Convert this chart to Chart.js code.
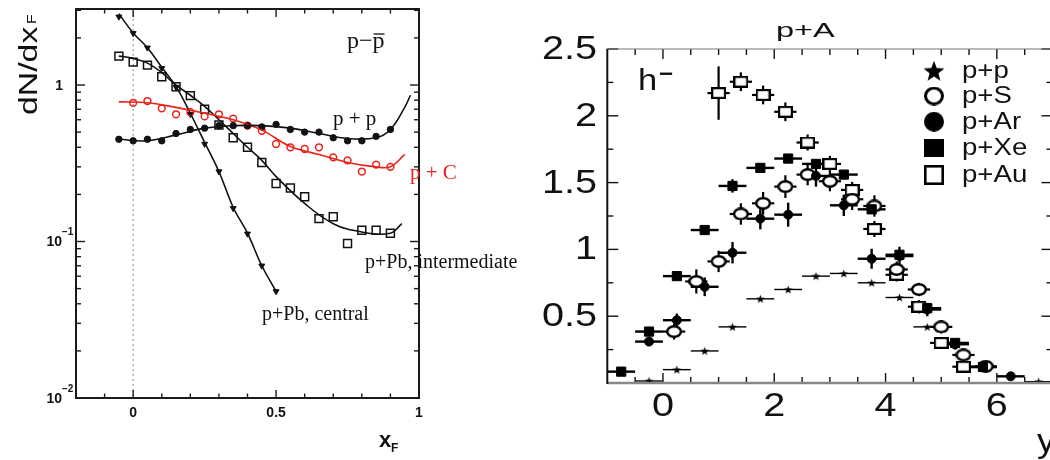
<!DOCTYPE html>
<html>
<head>
<meta charset="utf-8">
<script src="https://cdn.jsdelivr.net/npm/chart.js@4.4.0/dist/chart.umd.min.js"></script>
<style>
  html, body { margin: 0; padding: 0; background: #fff; }
  body { width: 1050px; height: 460px; overflow: hidden; position: relative; }
  canvas { position: absolute; top: 0; }
  #xf { left: 0; }
  #rap { left: 520px; }
</style>
</head>
<body>
<canvas id="xf" width="540" height="460"></canvas>
<canvas id="rap" width="540" height="460"></canvas>
<script>
const SANS = '"Liberation Sans", Arial, Helvetica, sans-serif';
const SERIF = '"Liberation Serif", "Times New Roman", serif';
const RED = '#e8231c';

// ---- left: net proton dN/dxF ----
const xfBins = [-0.05, 0, 0.05, 0.1, 0.15, 0.2, 0.25, 0.3, 0.35, 0.4, 0.45, 0.5, 0.55, 0.6, 0.65, 0.7, 0.75, 0.8, 0.85, 0.9];
const ppNet = [0.45, 0.44, 0.45, 0.44, 0.49, 0.52, 0.53, 0.55, 0.55, 0.55, 0.54, 0.56, 0.52, 0.50, 0.50, 0.46, 0.44, 0.44, 0.47, 0.52];
const pcBins = [0, 0.05, 0.1, 0.15, 0.2, 0.25, 0.3, 0.35, 0.4, 0.45, 0.5, 0.55, 0.6, 0.65, 0.7, 0.75, 0.8, 0.85, 0.9];
const pcNet = [0.77, 0.79, 0.71, 0.65, 0.67, 0.63, 0.65, 0.61, 0.55, 0.51, 0.42, 0.40, 0.39, 0.40, 0.345, 0.33, 0.28, 0.31, 0.30];
const pbInterNet = [1.53, 1.40, 1.34, 1.13, 0.975, 0.855, 0.70, 0.555, 0.46, 0.40, 0.32, 0.235, 0.22, 0.193, 0.14, 0.144, 0.097, 0.118, 0.118, 0.113];
const pbCentBins = [-0.05, 0, 0.05, 0.1, 0.15, 0.2, 0.25, 0.3, 0.35, 0.4, 0.45, 0.5];
const pbCentNet = [2.73, 2.14, 1.73, 1.28, 0.97, 0.65, 0.42, 0.28, 0.163, 0.112, 0.070, 0.048];

// fitted curves
const ppFitX = [-0.05, 0.05, 0.15, 0.25, 0.35, 0.45, 0.55, 0.65, 0.75, 0.85, 0.9, 0.95, 0.97];
const ppFitY = [0.45, 0.44, 0.48, 0.53, 0.55, 0.55, 0.53, 0.49, 0.455, 0.46, 0.52, 0.72, 0.86];
const pcFitX = [-0.05, 0.05, 0.15, 0.25, 0.35, 0.45, 0.55, 0.65, 0.75, 0.85, 0.9, 0.95];
const pcFitY = [0.78, 0.77, 0.72, 0.66, 0.60, 0.515, 0.405, 0.36, 0.32, 0.30, 0.30, 0.36];
const pbInterFitX = [-0.05, 0, 0.05, 0.1, 0.15, 0.2, 0.25, 0.3, 0.35, 0.4, 0.45, 0.5, 0.6, 0.7, 0.8, 0.9, 0.94];
const pbInterFitY = [1.53, 1.48, 1.38, 1.2, 1.0, 0.86, 0.73, 0.60, 0.49, 0.40, 0.33, 0.26, 0.175, 0.13, 0.115, 0.113, 0.13];
const pbCentFitX = [-0.05, 0, 0.05, 0.1, 0.15, 0.2, 0.25, 0.3, 0.35, 0.4, 0.45, 0.5];
const pbCentFitY = [2.85, 2.15, 1.73, 1.3, 0.98, 0.66, 0.43, 0.28, 0.165, 0.113, 0.07, 0.048];

const xfTickVals = [0, 0.5, 1];
const xfTickText = ['0', '0.5', '1'];
const dnTickVals = [0.01, 0.1, 1];
const dnTickText = [['10', '\u22122'], ['10', '\u22121'], ['1', '']];

// ---- right: h- rapidity spectra in p+A ----
const ppRapX = [-0.25, 0.25, 0.75, 1.25, 1.75, 2.25, 2.75, 3.25, 3.75, 4.25, 4.75, 6.75];
const ppRapY = [0.015, 0.10, 0.24, 0.42, 0.63, 0.70, 0.80, 0.82, 0.75, 0.64, 0.42, 0.01];
const psRapX = [0.2, 0.6, 1.0, 1.4, 1.8, 2.2, 2.6, 3.0, 3.4, 3.8, 4.2, 4.6, 5.0, 5.4, 5.8];
const psRapY = [0.385, 0.76, 0.91, 1.265, 1.345, 1.47, 1.56, 1.51, 1.375, 1.325, 0.85, 0.70, 0.42, 0.21, 0.125];
const psRapErr = [0.06, 0.09, 0.08, 0.08, 0.085, 0.085, 0.08, 0.075, 0.08, 0.08, 0.06, 0.05, 0.05, 0.04, 0.03];
const parRapX = [-0.25, 0.25, 0.75, 1.25, 1.75, 2.25, 2.75, 3.25, 3.75, 4.25, 4.75, 5.25, 5.75, 6.25];
const parRapY = [0.31, 0.47, 0.72, 0.975, 1.23, 1.26, 1.55, 1.33, 0.93, 0.95, 0.55, 0.29, 0.12, 0.05];
const parRapErr = [0.03, 0.05, 0.07, 0.08, 0.08, 0.09, 0.08, 0.08, 0.075, 0.07, 0.05, 0.04, 0.02, 0.02];
const pxeRapX = [-0.75, -0.25, 0.25, 0.75, 1.25, 1.75, 2.25, 2.75, 3.25, 3.75, 4.25, 4.75, 5.25, 5.75];
const pxeRapY = [0.085, 0.385, 0.80, 1.145, 1.475, 1.61, 1.68, 1.64, 1.56, 1.30, 0.96, 0.56, 0.30, 0.12];
const pxeRapErr = [0.02, 0.03, 0.03, 0.03, 0.05, 0.03, 0.03, 0.03, 0.03, 0.03, 0.03, 0.03, 0.02, 0.02];
const pauRapX = [1.0, 1.4, 1.8, 2.2, 2.6, 3.0, 3.4, 3.8, 4.2, 4.6, 5.0, 5.4];
const pauRapY = [2.17, 2.255, 2.156, 2.03, 1.80, 1.64, 1.445, 1.153, 0.81, 0.571, 0.30, 0.122];
const pauRapErr = [0.2, 0.07, 0.07, 0.07, 0.06, 0.06, 0.06, 0.06, 0.05, 0.05, 0.04, 0.04];

const rapTickVals = [0, 2, 4, 6];
const rapTickText = ['0', '2', '4', '6'];
const yieldTickVals = [0.5, 1, 1.5, 2, 2.5];
const yieldTickText = ['0.5', '1', '1.5', '2', '2.5'];
const legendText = ['p+p', 'p+S', 'p+Ar', 'p+Xe', 'p+Au'];

const pts = (xs, ys) => xs.map((v, i) => ({ x: v, y: ys[i] }));

function drawText(ctx, text, x, y, sx, align) {
  ctx.save();
  ctx.translate(x, y);
  ctx.scale(sx || 1, 1);
  ctx.textAlign = align || 'left';
  ctx.fillText(text, 0, 0);
  ctx.restore();
}

function seg(ctx, x1, y1, x2, y2) {
  ctx.beginPath(); ctx.moveTo(x1, y1); ctx.lineTo(x2, y2); ctx.stroke();
}

// inward ticks on all four sides
function frameTicks(chart, xt, yt) {
  const { ctx, chartArea: a, scales: { x, y } } = chart;
  xt.forEach(([v, len]) => {
    const px = x.getPixelForValue(v);
    seg(ctx, px, a.bottom, px, a.bottom - len);
    seg(ctx, px, a.top, px, a.top + len);
  });
  yt.forEach(([v, len]) => {
    const py = y.getPixelForValue(v);
    seg(ctx, a.left, py, a.left + len, py);
    seg(ctx, a.right, py, a.right - len, py);
  });
}

// marker images
function starImg(d) {
  const c = document.createElement('canvas');
  c.width = c.height = d;
  const g = c.getContext('2d');
  const r = d / 2, ri = r * 0.42;
  g.beginPath();
  for (let k = 0; k < 10; k++) {
    const ang = -Math.PI / 2 + k * Math.PI / 5;
    const rr = k % 2 ? ri : r;
    g.lineTo(r + rr * Math.cos(ang), r + rr * Math.sin(ang) + r * 0.1);
  }
  g.closePath();
  g.fillStyle = '#000';
  g.fill();
  return c;
}
function ringImg(w, h, lw) {
  const c = document.createElement('canvas');
  c.width = w; c.height = h;
  const g = c.getContext('2d');
  g.beginPath();
  g.ellipse(w / 2, h / 2, w / 2 - lw / 2, h / 2 - lw / 2, 0, 0, Math.PI * 2);
  g.fillStyle = '#fff'; g.fill();
  g.lineWidth = lw; g.strokeStyle = '#000'; g.stroke();
  return c;
}
function boxImg(w, h, lw, filled) {
  const c = document.createElement('canvas');
  c.width = w; c.height = h;
  const g = c.getContext('2d');
  g.fillStyle = filled ? '#000' : '#fff';
  g.fillRect(0, 0, w, h);
  if (!filled) {
    g.lineWidth = lw; g.strokeStyle = '#000';
    g.strokeRect(lw / 2, lw / 2, w - lw, h - lw);
  }
  return c;
}
function dotImg(d) {
  const c = document.createElement('canvas');
  c.width = c.height = d;
  const g = c.getContext('2d');
  g.beginPath(); g.arc(d / 2, d / 2, d / 2, 0, Math.PI * 2);
  g.fillStyle = '#000'; g.fill();
  return c;
}

const starSmall = starImg(9);
const ringSmall = ringImg(16, 13, 2.4);
const boxSmall = boxImg(15, 12, 2.2, false);

// ---------- left chart ----------
const xfDecor = {
  id: 'xfDecor',
  beforeDatasetsDraw(chart) {
    const { ctx, chartArea: a, scales: { x } } = chart;
    const px = x.getPixelForValue(0);
    ctx.save();
    ctx.strokeStyle = '#8a8a8a'; ctx.lineWidth = 1; ctx.setLineDash([2, 3]);
    seg(ctx, px, a.top, px, a.bottom);
    ctx.restore();
  },
  afterDraw(chart) {
    const { ctx, chartArea: a, scales: { x, y } } = chart;
    ctx.save();
    ctx.strokeStyle = '#1a1a1a';
    ctx.lineWidth = 1.4;
    const xt = [];
    for (let k = -1; k <= 9; k++) if (k !== 0 && k !== 5) xt.push([k / 10, 4.5]);
    xfTickVals.forEach(v => xt.push([v, 8]));
    const yt = [];
    [0.01, 0.1, 1].forEach(dec => { for (let m = 2; m <= 9; m++) if (dec * m < 3.06) yt.push([dec * m, 5]); });
    dnTickVals.forEach(v => yt.push([v, 9]));
    frameTicks(chart, xt, yt);
    ctx.lineWidth = 2;
    ctx.strokeRect(a.left, a.top, a.right - a.left, a.bottom - a.top);

    ctx.fillStyle = '#111';
    ctx.textBaseline = 'middle';
    ctx.font = 'bold 14px ' + SANS;
    xfTickVals.forEach((v, i) => drawText(ctx, xfTickText[i], x.getPixelForValue(v), 413, 1, 'center'));
    dnTickVals.forEach((v, i) => {
      const py = y.getPixelForValue(v);
      const [base, ex] = dnTickText[i];
      ctx.font = 'bold 14px ' + SANS;
      drawText(ctx, base, ex ? 62 : 63, py + 1, 1, 'right');
      if (ex) {
        ctx.font = 'bold 10px ' + SANS;
        drawText(ctx, ex, 62, py - 9, 1, 'left');
      }
    });

    // axis titles
    ctx.textBaseline = 'alphabetic';
    ctx.font = '26px ' + SANS;
    ctx.save();
    ctx.translate(37, 115);
    ctx.rotate(-Math.PI / 2);
    drawText(ctx, 'dN/dx', 0, 0, 1.3);
    ctx.font = '13px ' + SANS;
    drawText(ctx, 'F', 91, -1, 1.2);
    ctx.restore();
    ctx.font = 'bold 22px ' + SANS;
    drawText(ctx, 'x', 379, 447, 1);
    ctx.font = 'bold 12px ' + SANS;
    drawText(ctx, 'F', 391, 452, 1);

    // curve labels
    ctx.font = '24px ' + SERIF;
    drawText(ctx, 'p\u2212p', 347, 48, 1);
    const w1 = ctx.measureText('p\u2212').width, w2 = ctx.measureText('p').width;
    ctx.strokeStyle = '#111'; ctx.lineWidth = 1.3;
    seg(ctx, 347 + w1 + 1, 34, 347 + w1 + w2, 34);
    ctx.font = '21px ' + SERIF;
    drawText(ctx, 'p + p', 333, 125, 1);
    ctx.fillStyle = RED;
    drawText(ctx, 'p + C', 410, 179, 1);
    ctx.fillStyle = '#111';
    ctx.font = '20px ' + SERIF;
    drawText(ctx, 'p+Pb, intermediate', 365, 268, 1);
    drawText(ctx, 'p+Pb, central', 262, 320, 1);
    ctx.restore();
  }
};

new Chart(document.getElementById('xf'), {
  type: 'scatter',
  data: {
    datasets: [
      { data: pts(ppFitX, ppFitY), showLine: true, tension: 0.4, pointRadius: 0, borderColor: '#111', borderWidth: 1.6 },
      { data: pts(pcFitX, pcFitY), showLine: true, tension: 0.4, pointRadius: 0, borderColor: RED, borderWidth: 1.6 },
      { data: pts(pbInterFitX, pbInterFitY), showLine: true, tension: 0.4, pointRadius: 0, borderColor: '#111', borderWidth: 1.6 },
      { data: pts(pbCentFitX, pbCentFitY), showLine: true, tension: 0.3, pointRadius: 0, borderColor: '#111', borderWidth: 1.6 },
      { data: pts(xfBins, ppNet), pointStyle: 'circle', pointRadius: 3.2, backgroundColor: '#111', borderColor: '#111', borderWidth: 1 },
      { data: pts(pcBins, pcNet), pointStyle: 'circle', pointRadius: 3.4, backgroundColor: 'rgba(255,255,255,0)', borderColor: RED, borderWidth: 1.5 },
      { data: pts(xfBins, pbInterNet), pointStyle: 'rect', pointRadius: 5.6, backgroundColor: 'rgba(255,255,255,0)', borderColor: '#111', borderWidth: 1.5 },
      { data: pts(pbCentBins, pbCentNet), pointStyle: 'triangle', rotation: 180, pointRadius: 3.4, backgroundColor: '#111', borderColor: '#111', borderWidth: 1 }
    ]
  },
  options: {
    responsive: false,
    animation: false,
    events: [],
    layout: { padding: { left: 76, top: 9, right: 121, bottom: 62 } },
    plugins: { legend: { display: false }, tooltip: { enabled: false } },
    scales: {
      x: { type: 'linear', min: -0.2, max: 1.0, display: false },
      y: { type: 'logarithmic', min: 0.01, max: 3.06, display: false }
    }
  },
  plugins: [xfDecor]
});

// ---------- right chart ----------
const errorBars = {
  id: 'errorBars',
  beforeDatasetsDraw(chart) {
    const { ctx, scales: { x, y } } = chart;
    chart.data.datasets.forEach(ds => {
      ctx.save();
      ctx.strokeStyle = '#000';
      ctx.lineWidth = ds.barWidth;
      ds.data.forEach((p, i) => {
        const px = x.getPixelForValue(p.x), py = y.getPixelForValue(p.y);
        seg(ctx, x.getPixelForValue(p.x - ds.xErr), py, x.getPixelForValue(p.x + ds.xErr), py);
        const ey = ds.yErr ? ds.yErr[i] : 0;
        if (ey) seg(ctx, px, y.getPixelForValue(p.y - ey), px, y.getPixelForValue(p.y + ey));
      });
      ctx.restore();
    });
  }
};

const legendMarks = [starImg(22), ringImg(20, 19, 3), dotImg(20), boxImg(20, 18, 0, true), boxImg(20, 20, 2.6, false)];

const rapDecor = {
  id: 'rapDecor',
  afterDraw(chart) {
    const { ctx, chartArea: a, scales: { x, y } } = chart;
    ctx.save();
    ctx.strokeStyle = '#111';
    ctx.lineWidth = 1.4;
    const xt = [];
    for (let k = -1; k <= 13; k++) if (k % 4 !== 0) xt.push([k / 2, 6]);
    rapTickVals.forEach(v => xt.push([v, 10]));
    const yt = [];
    for (let k = 1; k <= 9; k += 2) yt.push([k / 4, 6]);
    yieldTickVals.forEach(v => yt.push([v, 11]));
    frameTicks(chart, xt, yt);
    // frame
    ctx.strokeStyle = '#777'; ctx.lineWidth = 1.2;
    seg(ctx, a.left, a.top, a.right, a.top);
    ctx.strokeStyle = '#888'; ctx.lineWidth = 2.5;
    seg(ctx, a.left, a.bottom, a.right, a.bottom);
    ctx.strokeStyle = '#111'; ctx.lineWidth = 2;
    seg(ctx, a.left, a.top, a.left, a.bottom + 1);
    seg(ctx, a.right, a.top, a.right, a.bottom);

    ctx.fillStyle = '#111';
    ctx.textBaseline = 'middle';
    ctx.font = '33px ' + SANS;
    yieldTickVals.forEach((v, i) => drawText(ctx, yieldTickText[i], 77, y.getPixelForValue(v) + 1, 1.2, 'right'));
    rapTickVals.forEach((v, i) => drawText(ctx, rapTickText[i], x.getPixelForValue(v), 407, 1.2, 'center'));

    ctx.textBaseline = 'alphabetic';
    ctx.font = '33px ' + SANS;
    drawText(ctx, 'y', 517, 452, 1.1);
    ctx.font = '21px ' + SANS;
    drawText(ctx, 'p+A', 256, 37, 1.55);
    ctx.font = '30px ' + SANS;
    drawText(ctx, 'h', 118, 90, 1.15);
    ctx.font = 'bold 22px ' + SANS;
    drawText(ctx, '\u2212', 139, 81, 1.1);

    // legend
    const rows = [70.7, 96, 121.7, 148, 175];
    ctx.textBaseline = 'middle';
    ctx.font = '23px ' + SANS;
    rows.forEach((ry, i) => {
      const m = legendMarks[i];
      ctx.drawImage(m, 414 - m.width / 2, ry - m.height / 2);
      drawText(ctx, legendText[i], 442, ry + 1, 1.2);
    });
    ctx.restore();
  }
};

new Chart(document.getElementById('rap'), {
  type: 'scatter',
  data: {
    datasets: [
      { label: legendText[0], data: pts(ppRapX, ppRapY), xErr: 0.25, barWidth: 1.4, pointStyle: starSmall, order: 0 },
      { label: legendText[1], data: pts(psRapX, psRapY), xErr: 0.2, yErr: psRapErr, barWidth: 2.2, pointStyle: ringSmall, order: 2 },
      { label: legendText[2], data: pts(parRapX, parRapY), xErr: 0.25, yErr: parRapErr, barWidth: 2.4, pointStyle: 'circle', pointRadius: 4.5, backgroundColor: '#000', borderColor: '#000', borderWidth: 1, order: 0 },
      { label: legendText[3], data: pts(pxeRapX, pxeRapY), xErr: 0.25, yErr: pxeRapErr, barWidth: 2.4, pointStyle: 'rect', pointRadius: 6.5, backgroundColor: '#000', borderColor: '#000', borderWidth: 1, order: 0 },
      { label: legendText[4], data: pts(pauRapX, pauRapY), xErr: 0.2, yErr: pauRapErr, barWidth: 2.2, pointStyle: boxSmall, order: 3 }
    ]
  },
  options: {
    responsive: false,
    animation: false,
    events: [],
    layout: { padding: { left: 87.3, top: 49, right: 4.7, bottom: 77 } },
    plugins: { legend: { display: false }, tooltip: { enabled: false } },
    scales: {
      x: { type: 'linear', min: -1, max: 7, display: false },
      y: { type: 'linear', min: 0, max: 2.5, display: false }
    }
  },
  plugins: [errorBars, rapDecor]
});
</script>
</body>
</html>
